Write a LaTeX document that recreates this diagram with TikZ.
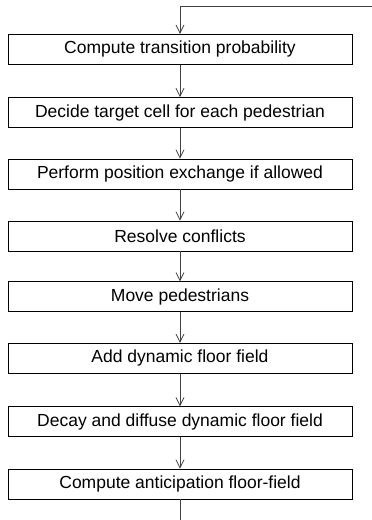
\documentclass[tikz,border=0pt]{standalone}
\usepackage{fontspec}
\setmainfont{Liberation Sans}
\usetikzlibrary{arrows.meta}
\tikzset{
  stepbox/.style={draw, line width=0.8pt, minimum width=344pt, minimum height=30pt, inner sep=0pt, font=\fontsize{17.5}{21}\selectfont},
  flow/.style={draw=black!75, line width=0.8pt, -{Straight Barb[length=8pt, width=8pt, line width=0.8pt]}}
}
\begin{document}
\begin{tikzpicture}[x=1pt, y=-1pt]
\useasboundingbox (0,0) rectangle (372,520);
\node[stepbox] (st0) at (180,49.3){Compute transition probability};
\node[stepbox] (st1) at (180,112.5){Decide target cell for each pedestrian};
\node[stepbox] (st2) at (180,174){Perform position exchange if allowed};
\node[stepbox] (st3) at (180,236){Resolve conflicts};
\node[stepbox] (st4) at (180,296.8){Move pedestrians};
\node[stepbox] (st5) at (180,358.3){Add dynamic floor field};
\node[stepbox] (st6) at (180,421.7){Decay and diffuse dynamic floor field};
\node[stepbox] (st7) at (180,484){Compute anticipation floor-field};
\coordinate (loopin) at (372,6);
\coordinate (loopout) at (180,520);
\draw[flow](loopin) -| (st0);
\draw[flow](st0) -- (st1);
\draw[flow](st1) -- (st2);
\draw[flow](st2) -- (st3);
\draw[flow](st3) -- (st4);
\draw[flow](st4) -- (st5);
\draw[flow](st5) -- (st6);
\draw[flow](st6) -- (st7);
\draw[draw=black!75, line width=0.8pt](st7) -- (loopout);
\end{tikzpicture}
\end{document}
